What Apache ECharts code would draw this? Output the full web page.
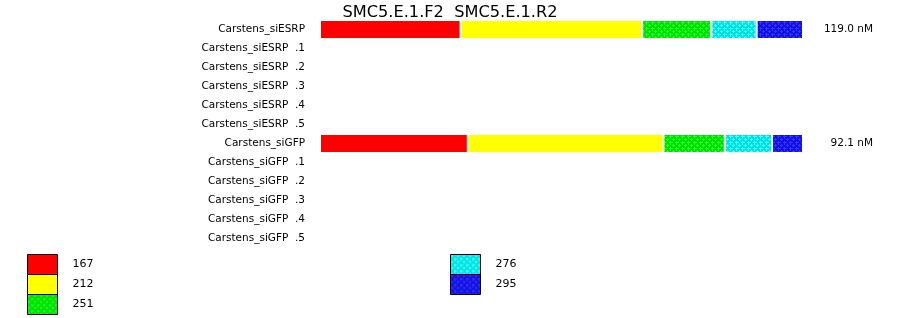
<!DOCTYPE html>
<html>
<head>
<meta charset="utf-8">
<script src="https://cdn.jsdelivr.net/npm/echarts@6/dist/echarts.min.js"></script>
<style>html,body{margin:0;padding:0;background:#fff}#c{width:900px;height:318px}</style>
</head>
<body>
<div id="c"></div>
<script>
const titleText = 'SMC5.E.1.F2  SMC5.E.1.R2';
const categories = ['Carstens_siESRP','Carstens_siESRP  .1','Carstens_siESRP  .2','Carstens_siESRP  .3','Carstens_siESRP  .4','Carstens_siESRP  .5',
  'Carstens_siGFP','Carstens_siGFP  .1','Carstens_siGFP  .2','Carstens_siGFP  .3','Carstens_siGFP  .4','Carstens_siGFP  .5'];
const seriesNames = ['167','212','251','276','295'];
// percentage share of each row
const s167 = [29.1,'-','-','-','-','-',30.6,'-','-','-','-','-'];
const s212 = [37.6,'-','-','-','-','-',40.5,'-','-','-','-','-'];
const s251 = [14.3,'-','-','-','-','-',12.7,'-','-','-','-','-'];
const s276 = [9.4,'-','-','-','-','-',9.8,'-','-','-','-','-'];
const s295 = [9.6,'-','-','-','-','-',6.4,'-','-','-','-','-'];
const totals = ['119.0 nM','','','','','','92.1 nM','','','','',''];

function pattern(base, dot){
  const c = document.createElement('canvas');
  c.width = 6; c.height = 6;
  const g = c.getContext('2d');
  g.fillStyle = base; g.fillRect(0,0,6,6);
  g.fillStyle = dot;
  function plus(x,y){
    g.fillRect(x-1,y,3,1); g.fillRect(x,y-1,1,3);
  }
  plus(1,1); plus(4,4);
  g.fillRect(0,4,1,1); g.fillRect(4,0,1,1);
  return {image:c, repeat:'repeat'};
}
const colors = ['#ff0000','#ffff00',pattern('#00dd00','#22ff22'),pattern('#00e0e0','#44ffff'),pattern('#1010e0','#3434ff')];
const values = [s167,s212,s251,s276,s295];
const font = 'DejaVu Sans';

const chart = echarts.init(document.getElementById('c'));
chart.setOption({
  animation:false,
  title:{text:titleText,left:'center',top:0,textStyle:{fontFamily:font,fontSize:16.2,fontWeight:'normal',color:'#000'}},
  grid:{left:320,right:97,top:20,height:228},
  xAxis:{type:'value',min:0,max:100,show:false},
  yAxis:[
    {type:'category',data:categories,inverse:true,axisLine:{show:false},axisTick:{show:false},
     axisLabel:{fontFamily:font,fontSize:10.5,color:'#000',margin:15}},
    {type:'category',data:totals,inverse:true,position:'right',axisLine:{show:false},axisTick:{show:false},
     axisLabel:{fontFamily:font,fontSize:10.5,color:'#000',margin:70,align:'right'}}
  ],
  legend:[
    {data:seriesNames.slice(0,3),orient:'vertical',left:27,top:254,itemWidth:30,itemHeight:20,itemGap:-1,padding:0,icon:'rect',
     itemStyle:{borderColor:'#000',borderWidth:1},textStyle:{fontFamily:font,fontSize:11,lineHeight:16,color:'#000',padding:[0,0,0,10]}},
    {data:seriesNames.slice(3),orient:'vertical',left:450,top:254,itemWidth:30,itemHeight:20,itemGap:-1,padding:0,icon:'rect',
     itemStyle:{borderColor:'#000',borderWidth:1},textStyle:{fontFamily:font,fontSize:11,lineHeight:16,color:'#000',padding:[0,0,0,10]}}
  ],
  series: seriesNames.map((n,i)=>({
    name:n,type:'bar',stack:'t',data:values[i],barWidth:19,
    itemStyle:{color:colors[i],borderColor:'#fff',borderWidth:1}
  }))
});
</script>
</body>
</html>
